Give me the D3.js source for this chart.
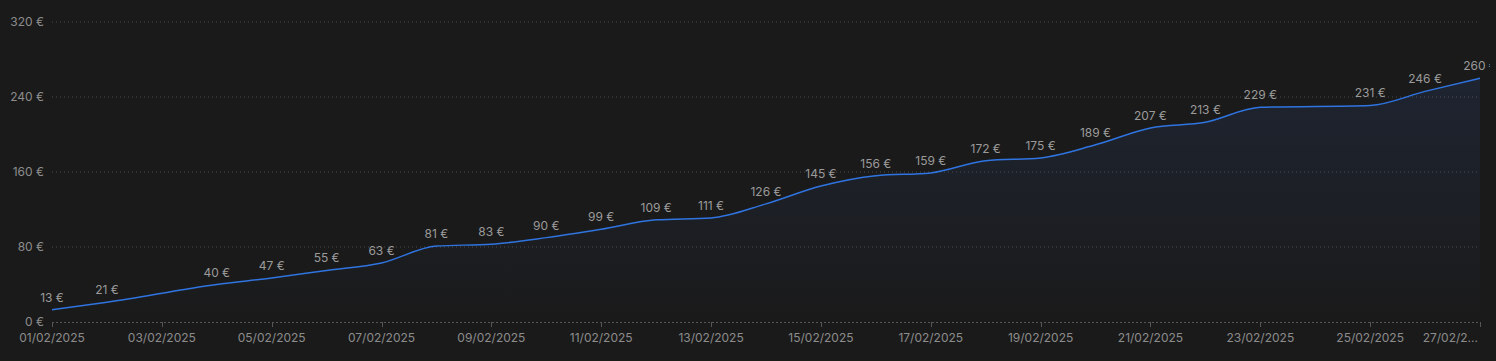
<!DOCTYPE html>
<html><head><meta charset="utf-8">
<script src="https://cdn.jsdelivr.net/npm/d3@7"></script>
<style>
html,body{margin:0;padding:0;background:#1a1a1a;}
svg{display:block;}
text{font-family:Inter,"Noto Sans",sans-serif;}
</style></head>
<body>
<svg id="c" width="1496" height="361"></svg>
<script>
const dates = ["01/02/2025","02/02/2025","04/02/2025","05/02/2025","06/02/2025","07/02/2025","08/02/2025","09/02/2025","10/02/2025","11/02/2025","12/02/2025","13/02/2025","14/02/2025","15/02/2025","16/02/2025","17/02/2025","18/02/2025","19/02/2025","20/02/2025","21/02/2025","22/02/2025","23/02/2025","25/02/2025","26/02/2025","27/02/2025"];
const values = [13,21,40,47,55,63,81,83,90,99,109,111,126,145,156,159,172,175,189,207,213,229,231,246,260];
const yTicks = [0,80,160,240,320];
const xTickLabels = ["01/02/2025","03/02/2025","05/02/2025","07/02/2025","09/02/2025","11/02/2025","13/02/2025","15/02/2025","17/02/2025","19/02/2025","21/02/2025","23/02/2025","25/02/2025","27/02/2025"];

const parse = d3.timeParse("%d/%m/%Y");
const data = dates.map((d,i)=>({date:parse(d), value:values[i]}));

const svg = d3.select("#c");
const W=1496,H=361;
const m = {left:52,right:16,top:22,bottom:39};
const x = d3.scaleTime().domain([parse("01/02/2025"), parse("27/02/2025")]).range([m.left, W-m.right]);
const y = d3.scaleLinear().domain([0,320]).range([H-m.bottom, m.top]);

const defs = svg.append("defs");
const grad = defs.append("linearGradient").attr("id","ag").attr("x1",0).attr("y1",0).attr("x2",0).attr("y2",1)
  .attr("gradientUnits","userSpaceOnUse").attr("y1",y(260)).attr("y2",y(0));
grad.append("stop").attr("offset","0%").attr("stop-color","#3b6fd6").attr("stop-opacity",0.12);
grad.append("stop").attr("offset","100%").attr("stop-color","#3b6fd6").attr("stop-opacity",0.0);
defs.append("clipPath").attr("id","clip").append("rect").attr("x",0).attr("y",0).attr("width",1490).attr("height",H);

// grid
svg.append("g").selectAll("line").data(yTicks.filter(t=>t>0)).join("line")
  .attr("x1",m.left).attr("x2",W-m.right).attr("y1",d=>y(d)).attr("y2",d=>y(d))
  .attr("stroke","#4a4a4a").attr("stroke-width",1).attr("stroke-dasharray","1,3");

// y labels
svg.append("g").selectAll("text").data(yTicks).join("text")
  .attr("x",44).attr("y",d=>y(d)).attr("dy","0.35em").attr("text-anchor","end")
  .attr("fill","#8c8c8c").attr("font-size",12).text(d=>d+" €");

// area + line
const area = d3.area().x(d=>x(d.date)).y0(y(0)).y1(d=>y(d.value)).curve(d3.curveMonotoneX);
const line = d3.line().x(d=>x(d.date)).y(d=>y(d.value)).curve(d3.curveMonotoneX);
svg.append("path").datum(data).attr("d",area).attr("fill","url(#ag)");

// x axis
const xt = xTickLabels.map(parse);
const ax = svg.append("g");
ax.append("line").attr("x1",m.left).attr("x2",W-m.right).attr("y1",y(0)+0.5).attr("y2",y(0)+0.5)
  .attr("stroke","#555").attr("stroke-dasharray","2,2");
ax.selectAll("line.t").data(xt).join("line").attr("class","t")
  .attr("x1",d=>Math.round(x(d))+0.5).attr("x2",d=>Math.round(x(d))+0.5).attr("y1",y(0)).attr("y2",y(0)+5)
  .attr("stroke","#555");
ax.selectAll("text").data(xt).join("text")
  .attr("x",(d,i)=> i===xt.length-1 ? x(d)-2 : x(d))
  .attr("y",y(0)+20).attr("text-anchor",(d,i)=> i===xt.length-1 ? "end":"middle")
  .attr("fill","#8c8c8c").attr("font-size",12)
  .text((d,i)=> i===xt.length-1 ? xTickLabels[i].slice(0,7)+"..." : xTickLabels[i]);

svg.append("path").datum(data).attr("d",line).attr("fill","none").attr("stroke","#2f74e0").attr("stroke-width",1.5);

// labels
svg.append("g").attr("clip-path","url(#clip)").selectAll("text").data(data).join("text")
  .attr("x",d=>x(d.date)).attr("y",d=>y(d.value)-8).attr("text-anchor","middle")
  .attr("fill","#9a9a9a").attr("font-size",12).text(d=>d.value+" €");
</script>
</body></html>
